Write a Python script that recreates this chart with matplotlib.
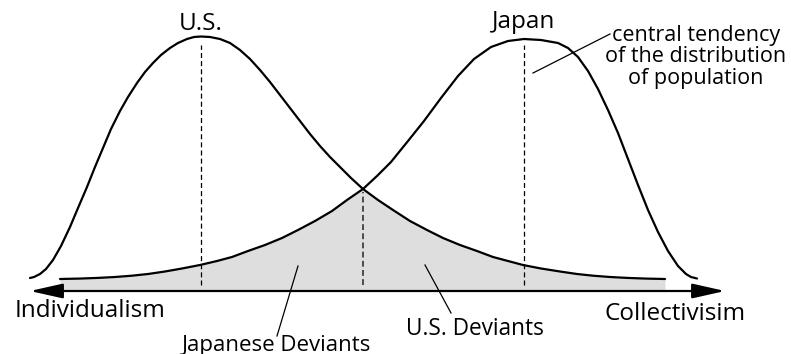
import matplotlib
matplotlib.use("Agg")
import matplotlib.pyplot as plt
import numpy as np

# curve readings: x position along the axis, height above the baseline
us_x = [30, 34, 40, 46, 53, 61, 70, 78, 87, 95, 103, 111, 120, 128, 137, 145, 153, 161, 170,
        178, 187, 194, 201, 210, 220, 230, 240, 250, 260, 270, 280, 290, 300, 310, 320, 330,
        340, 351, 363, 378, 393, 410, 427, 443, 460, 477, 493, 508, 523, 541, 560, 577, 593,
        610, 627, 646, 665]
us_h = [1, 2, 5, 10, 19, 33, 52, 71, 92, 112, 131, 150, 168, 182, 196, 207, 216, 224, 231,
        236, 240, 242, 242.5, 242, 240, 236, 229, 220, 209, 197, 184, 171, 158, 145, 133, 122,
        112, 101, 90, 79, 69, 58, 49, 41, 34, 28, 22, 18, 14, 10.5, 7.5, 5, 3.3, 2, 1.1, 0.4, 0]

jp_x = [60, 79, 98, 115, 132, 148, 165, 182, 200, 217, 232, 248, 265, 282, 298, 315, 332, 347,
        363, 377, 391, 408, 424, 441, 458, 474, 491, 508, 524, 541, 558, 568, 578, 588, 598,
        608, 618, 628, 638, 648, 658, 668, 678, 686, 691, 697]
jp_h = [0, 0.4, 1.1, 2, 3.3, 5, 7.5, 10.5, 14, 18, 22, 28, 34, 41, 49, 58, 68, 79,
        90, 103, 117, 138, 158, 181, 203, 220, 232, 238, 240, 239, 236, 231, 222, 208, 190,
        169, 146, 120, 94, 69, 47, 28, 13, 5, 2, 0.5]

peaks_x = [201, 524]
cross_x = 363
cross_h = 90

plt.rcParams['font.family'] = ['Open Sans', 'DejaVu Sans']

fig = plt.figure(figsize=(7.91, 3.54), dpi=100)
ax = fig.add_axes([0, 0, 1, 1])
ax.set_xlim(0, 791)
ax.set_ylim(-75, 279)
ax.axis('off')

# shaded overlap of the two tails
jx = np.array(jp_x)
jh = np.array(jp_h)
ux = np.array(us_x)
uh = np.array(us_h)
fx = np.concatenate([jx[jx <= cross_x], ux[ux > cross_x]])
fh = np.concatenate([jh[jx <= cross_x], uh[ux > cross_x]])
ax.fill_between(fx, -12, fh, color='#dedede', lw=0, zorder=1)

ax.plot(us_x, us_h, color='black', lw=1.6, solid_joinstyle='round',
        solid_capstyle='round', zorder=3)
ax.plot(jp_x, jp_h, color='black', lw=1.6, solid_joinstyle='round',
        solid_capstyle='round', zorder=3)

# dashed central lines
for px in peaks_x:
    ax.plot([px, px], [-6, 234], color='black', lw=0.9, ls=(0, (4, 2.5)), zorder=2)
ax.plot([cross_x, cross_x], [-6, cross_h - 3], color='#333333', lw=1.2,
        ls=(0, (3.5, 2)), zorder=2)

# axis with arrowheads
ax.annotate('', xy=(725, -12), xytext=(30, -12),
            arrowprops=dict(arrowstyle='<|-|>,head_length=2.0,head_width=0.45',
                            mutation_scale=10, lw=1.6, color='black',
                            shrinkA=0, shrinkB=0))

fs = 17.5
ax.text(201, 255, 'U.S.', ha='center', va='center', fontsize=fs)
ax.text(524, 257, 'Japan', ha='center', va='center', fontsize=fs)
ax.text(696, 222, 'central tendency\nof the distribution\nof population',
        ha='center', va='center', fontsize=15.5, linespacing=1.05)
ax.plot([533, 610], [206, 245], color='black', lw=0.9)

ax.text(15, -32, 'Individualism', ha='left', va='center', fontsize=fs)
ax.text(746, -35, 'Collectivisim', ha='right', va='center', fontsize=fs)
ax.text(475, -50, 'U.S. Deviants', ha='center', va='center', fontsize=16.3)
ax.text(276, -66, 'Japanese Deviants', ha='center', va='center', fontsize=16)
ax.plot([298, 277], [13, -57], color='black', lw=0.9)
ax.plot([425, 451], [14, -34], color='black', lw=0.9)

fig.savefig('out.png', dpi=100)
